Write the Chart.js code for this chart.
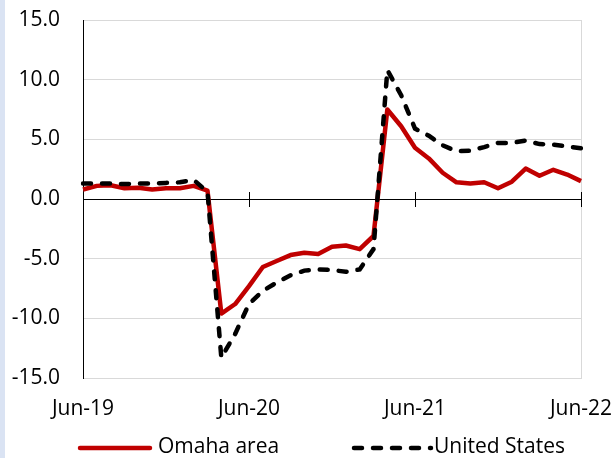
<!DOCTYPE html>
<html>
<head>
<meta charset="utf-8">
<script src="https://cdn.jsdelivr.net/npm/chart.js@4/dist/chart.umd.min.js"></script>
<style>
html,body{margin:0;padding:0;background:#fff;}
#wrap{position:relative;width:615px;height:458px;overflow:hidden;}
#strip{position:absolute;left:0;top:0;width:5px;height:458px;background:#dae3f3;}
#c{position:absolute;left:0;top:0;}
</style>
</head>
<body>
<div id="wrap"><div id="strip"></div><canvas id="c" width="615" height="458"></canvas></div>
<script>
const months = ['Jun-19','Jul-19','Aug-19','Sep-19','Oct-19','Nov-19','Dec-19','Jan-20','Feb-20','Mar-20','Apr-20','May-20',
  'Jun-20','Jul-20','Aug-20','Sep-20','Oct-20','Nov-20','Dec-20','Jan-21','Feb-21','Mar-21','Apr-21','May-21',
  'Jun-21','Jul-21','Aug-21','Sep-21','Oct-21','Nov-21','Dec-21','Jan-22','Feb-22','Mar-22','Apr-22','May-22','Jun-22'];
const tickLabels = ['Jun-19','Jun-20','Jun-21','Jun-22'];
const omaha = [0.8, 1.1, 1.15, 0.9, 0.95, 0.8, 0.9, 0.9, 1.1, 0.7,
  -9.6, -8.8, -7.3, -5.7, -5.2, -4.7, -4.5, -4.6, -4.0, -3.9, -4.2, -3.1,
  7.5, 6.1, 4.3, 3.4, 2.2, 1.4, 1.3, 1.4, 0.9, 1.45, 2.55, 1.95, 2.45, 2.05, 1.5];
const unitedStates = [1.3, 1.3, 1.3, 1.25, 1.3, 1.3, 1.35, 1.4, 1.6, 0.6,
  -13.3, -11.3, -8.8, -7.7, -7.0, -6.4, -6.0, -5.9, -5.95, -6.1, -5.9, -4.2,
  10.8, 8.7, 5.9, 5.3, 4.5, 4.0, 4.05, 4.35, 4.7, 4.7, 4.9, 4.6, 4.55, 4.4, 4.25];
const seriesNames = ['Omaha area', 'United States'];
const yMin = -15, yMax = 15, yStep = 5;

const FONT = "'Open Sans', 'Liberation Sans', sans-serif";
const TEXT = '#000000';

function noPad(s) {
  s.paddingLeft = 0; s.paddingRight = 0; s.paddingTop = 0; s.paddingBottom = 0;
}

const framePlugin = {
  id: 'frame',
  beforeDatasetsDraw(chart) {
    const {ctx, chartArea: a, scales: {x, y}} = chart;
    ctx.save();
    ctx.strokeStyle = '#d9d9d9';
    ctx.lineWidth = 1;
    ctx.beginPath();
    ctx.moveTo(Math.round(a.right) + 0.5, a.top);
    ctx.lineTo(Math.round(a.right) + 0.5, a.bottom);
    ctx.stroke();
    const y0 = Math.round(y.getPixelForValue(0));
    ctx.strokeStyle = '#000';
    ctx.beginPath();
    months.forEach((m, i) => {
      if (tickLabels.includes(m) && i > 0) {
        const px = Math.round(x.getPixelForValue(i)) + 0.5;
        ctx.moveTo(px, y0 - 7);
        ctx.lineTo(px, y0 + 8);
      }
    });
    ctx.stroke();
    ctx.restore();
  }
};

const legendPlugin = {
  id: 'customLegend',
  afterDraw(chart) {
    const {ctx} = chart;
    const items = [{x1: 80, x2: 150, tx: 158}, {x1: 354, x2: 431, tx: 434}];
    const ly = 448;
    ctx.save();
    chart.data.datasets.forEach((ds, i) => {
      const it = items[i];
      ctx.strokeStyle = ds.borderColor;
      ctx.lineWidth = ds.borderWidth;
      ctx.lineCap = 'round';
      ctx.setLineDash(ds.borderDash || []);
      ctx.beginPath();
      ctx.moveTo(it.x1, ly);
      ctx.lineTo(it.x2, ly);
      ctx.stroke();
      ctx.setLineDash([]);
      ctx.fillStyle = TEXT;
      ctx.font = `21px ${FONT}`;
      ctx.textBaseline = 'middle';
      ctx.textAlign = 'left';
      ctx.fillText(ds.label, it.tx, ly - 1);
    });
    ctx.restore();
  }
};

new Chart(document.getElementById('c'), {
  type: 'line',
  data: {
    labels: months,
    datasets: [
      {label: seriesNames[0], data: omaha, borderColor: '#c00000', borderWidth: 4.5,
       pointRadius: 0, tension: 0, borderJoinStyle: 'round', order: 2},
      {label: seriesNames[1], data: unitedStates, borderColor: '#000000', borderWidth: 4.5,
       borderDash: [8, 11], borderCapStyle: 'round', pointRadius: 0, tension: 0, order: 1}
    ]
  },
  options: {
    responsive: false,
    animation: false,
    devicePixelRatio: 1,
    layout: {padding: {left: 0, right: 34, top: 20, bottom: 0}, autoPadding: false},
    plugins: {legend: {display: false}, tooltip: {enabled: false}},
    scales: {
      x: {
        offset: false,
        grid: {display: false, drawTicks: false},
        border: {display: true, color: '#d9d9d9', width: 1},
        ticks: {
          autoSkip: false, maxRotation: 0, minRotation: 0, padding: 18,
          color: TEXT, font: {family: FONT, size: 21},
          callback: (v, i) => tickLabels.includes(months[i]) ? months[i] : ''
        },
        afterFit: (s) => { s.height = 80; noPad(s); }
      },
      y: {
        min: yMin, max: yMax,
        grid: {
          drawTicks: false,
          color: (c) => c.tick && c.tick.value === 0 ? '#000000' : '#d9d9d9',
          lineWidth: 1
        },
        border: {display: true, color: '#000000', width: 1},
        ticks: {
          stepSize: yStep, padding: 23, color: TEXT,
          font: {family: FONT, size: 21},
          callback: (v) => Number(v).toFixed(1)
        },
        afterFit: (s) => { s.width = 83; noPad(s); }
      }
    }
  },
  plugins: [framePlugin, legendPlugin]
});
</script>
</body>
</html>
